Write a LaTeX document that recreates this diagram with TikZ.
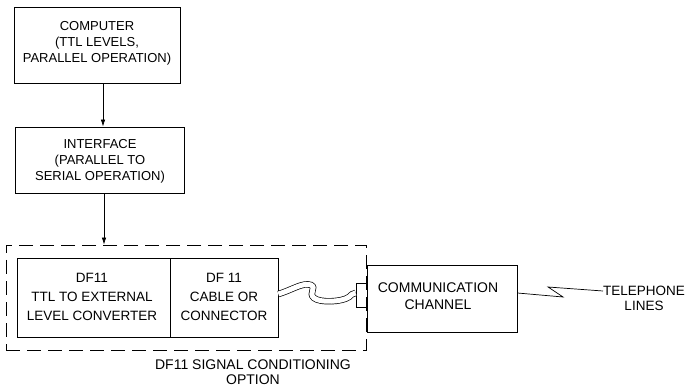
\documentclass[tikz,border=0pt]{standalone}
\usepackage{fontspec}
\setmainfont{Liberation Sans}
\usetikzlibrary{arrows.meta}
\begin{document}
\begin{tikzpicture}[x=1pt,y=-1pt,
  box/.style={draw, line width=0.8pt, inner sep=0pt},
  dbox/.style={draw, line width=0.8pt, inner sep=0pt, dash pattern=on 14pt off 7pt},
  lbl/.style={align=center, inner sep=0pt, font=\fontsize{13}{16}\selectfont},
  lblb/.style={align=center, inner sep=0pt, font=\fontsize{13.5}{19}\selectfont},
  arr/.style={-{Latex[length=7pt,width=4.5pt]}, line width=0.7pt},
  wire/.style={line width=0.7pt}]
\useasboundingbox (0,0) rectangle (685,387);
% boxes
\node[box, minimum width=166pt, minimum height=76pt] (comp) at (97,45) {};
\node[box, minimum width=169pt, minimum height=66pt] (iface) at (99.5,160) {};
\node[dbox, minimum width=360pt, minimum height=105pt] (opt) at (186,297.5) {};
\node[box, minimum width=153pt, minimum height=79pt] (conv) at (93.5,297.5) {};
\node[box, minimum width=108pt, minimum height=79pt] (cable) at (224,297.5) {};
\node[box, minimum width=150pt, minimum height=67pt] (comm) at (442,298.5) {};
\node[box, minimum width=11pt, minimum height=24pt] (plug) at (361.5,295) {};
% texts
\node[lbl] (tcomp) at (97,43) {COMPUTER\\(TTL LEVELS,\\PARALLEL OPERATION)};
\node[lbl] (tiface) at (100,161) {INTERFACE\\(PARALLEL TO\\SERIAL OPERATION)};
\node[lblb] (tconv) at (92,297) {DF11\\TTL TO EXTERNAL\\LEVEL CONVERTER};
\node[lblb] (tcable) at (224,297) {DF 11\\CABLE OR\\CONNECTOR};
\node[lblb, font=\fontsize{14}{17}\selectfont] (tcomm) at (438,296.5) {COMMUNICATION\\CHANNEL};
\node[lbl, font=\fontsize{14}{15}\selectfont] (topt) at (253,372) {DF11 SIGNAL CONDITIONING\\OPTION};
\node[lbl, font=\fontsize{13.5}{15}\selectfont] (ttel) at (644,298) {TELEPHONE\\LINES};
% arrows
\coordinate (xa) at (103,0);
\coordinate (xb) at (104,0);
\draw[arr] (comp.south -| xa) -- (iface.north -| xa);
\draw[arr] (iface.south -| xb) -- (opt.north -| xb);
% cable
\coordinate (c0) at (cable.east |- 0,294);
\coordinate (c1) at (plug.west |- 0,293);
\draw[wire, double, double distance=5pt] (c0) .. controls (292,290) and (303,282) .. (311,285)
  .. controls (317,288) and (308,293) .. (314,298)
  .. controls (320,303) and (342,302) .. (349,297)
  .. controls (351,295) and (353,293) .. (c1);
% telephone line
\coordinate (t0) at (comm.east |- 0,293);
\coordinate (t1) at (563,297);
\coordinate (t2) at (548,287);
\coordinate (t3) at (603,291);
\draw[wire] (t0) -- (t1) -- (t2) -- (t3);
\end{tikzpicture}
\end{document}
